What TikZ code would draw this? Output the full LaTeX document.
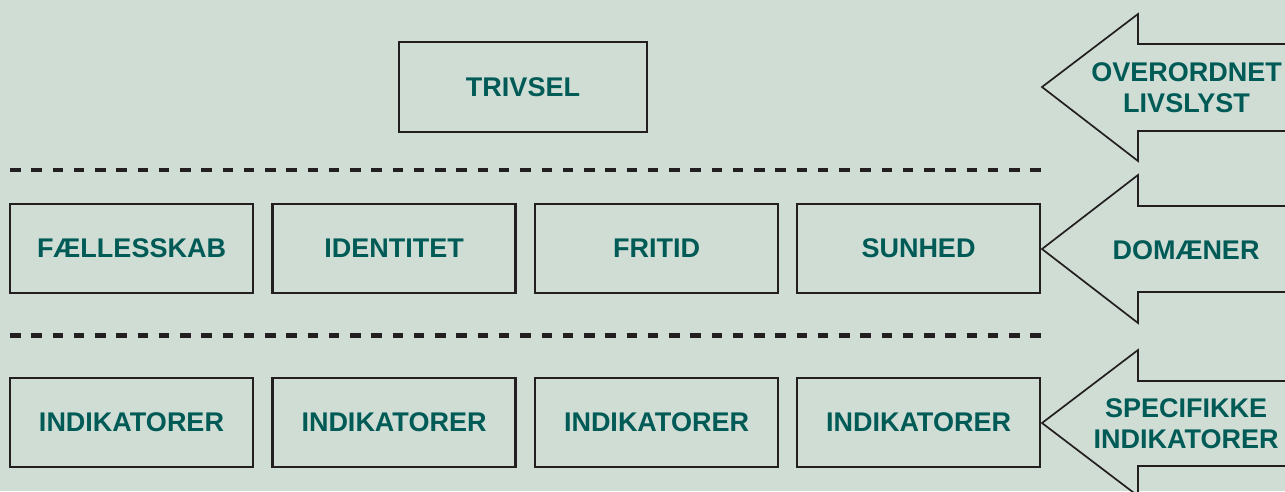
\documentclass[tikz,border=0pt]{standalone}
\usepackage{fontspec}
\setmainfont{Liberation Sans}
\definecolor{bgsage}{RGB}{207,221,213}
\definecolor{inkteal}{RGB}{0,90,86}
\definecolor{inkline}{RGB}{35,31,32}
\begin{document}
\begin{tikzpicture}[x=1pt,y=-1pt,
  every node/.style={inner sep=0pt,outer sep=0pt},
  box/.style={draw=inkline,line width=2.4pt,minimum width=243pt,minimum height=89pt,
    font=\fontsize{27}{31}\selectfont\bfseries,text=inkteal},
  label/.style={font=\fontsize{27}{31}\selectfont\bfseries,text=inkteal,align=center},
  arrowshape/.style={draw=inkline,line width=1.7pt,line join=miter,fill=bgsage},
  sep/.style={draw=inkline,line width=4.6pt,dash pattern=on 10.5pt off 10.76pt}]
\fill[bgsage] (0,0) rectangle (1285,491);
\useasboundingbox (0,0) rectangle (1285,491);

% top level
\node[box,minimum width=248pt,minimum height=90pt] (trivsel) at (523,87) {TRIVSEL};

% separators
\coordinate (s1a) at (10,170); \coordinate (s1b) at (1041,170);
\coordinate (s2a) at (10,335.5); \coordinate (s2b) at (1041,335.5);
\draw[sep] (s1a) -- (s1b);
\draw[sep] (s2a) -- (s2b);

% domains
\node[box] (d1) at (131.5,248.5) {FÆLLESSKAB};
\node[box] (d2) at (394,248.5) {IDENTITET};
\node[box] (d3) at (656.5,248.5) {FRITID};
\node[box] (d4) at (918.5,248.5) {SUNHED};

% indicators
\node[box] (i1) at (131.5,422.5) {INDIKATORER};
\node[box] (i2) at (394,422.5) {INDIKATORER};
\node[box] (i3) at (656.5,422.5) {INDIKATORER};
\node[box] (i4) at (918.5,422.5) {INDIKATORER};

% side arrows pointing left
\draw[arrowshape] (1300,44) -- (1138,44) -- (1138,14) -- (1042,87) -- (1138,161) -- (1138,131) -- (1300,131);
\draw[arrowshape] (1300,206) -- (1138,206) -- (1138,175) -- (1042,249) -- (1138,323) -- (1138,292) -- (1300,292);
\draw[arrowshape] (1300,381) -- (1138,381) -- (1138,350) -- (1042,423) -- (1138,496) -- (1138,466) -- (1300,466);

\node[label] (a1) at (1186.5,88) {OVERORDNET\\LIVSLYST};
\node[label] (a2) at (1186,250) {DOMÆNER};
\node[label] (a3) at (1186,424) {SPECIFIKKE\\INDIKATORER};
\end{tikzpicture}
\end{document}
